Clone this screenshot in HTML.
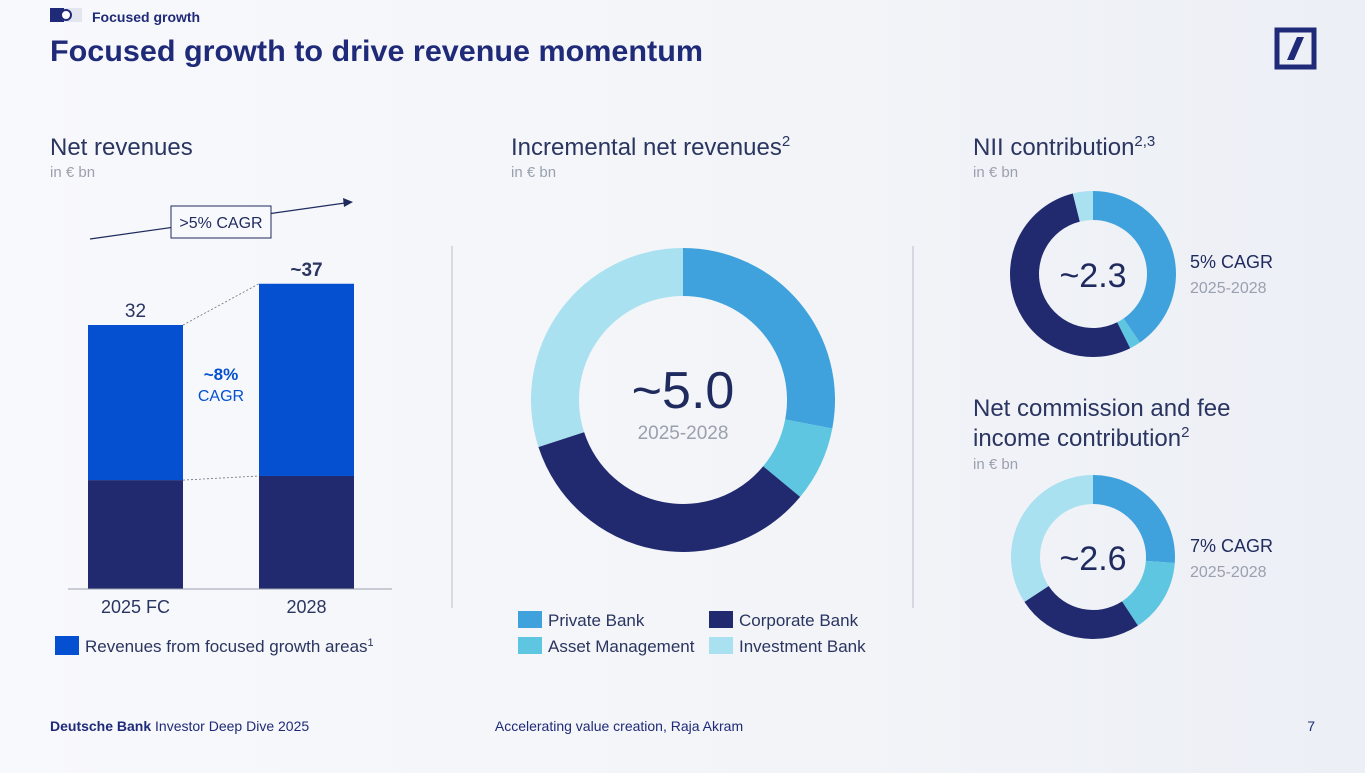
<!DOCTYPE html>
<html><head><meta charset="utf-8"><style>
html,body{margin:0;padding:0}
body{width:1365px;height:768px;overflow:hidden;background:linear-gradient(90deg,#f8f9fc 0%,#f2f4f8 60%,#eceff5 100%);font-family:"Liberation Sans",sans-serif}
svg text{font-family:"Liberation Sans",sans-serif}
</style></head><body>
<svg id="s" width="1365" height="768" xmlns="http://www.w3.org/2000/svg">
<g>
  <rect x="50" y="8" width="32" height="14" fill="#e3e6ef"/>
  <rect x="50" y="8" width="14" height="14" fill="#1f2a78"/>
  <circle cx="66" cy="15" r="5" fill="#fff" stroke="#1f2a78" stroke-width="2"/>
  <text x="92" y="22" font-size="14" font-weight="bold" fill="#1f2a78">Focused growth</text>
  <text x="50" y="61" font-size="30" font-weight="bold" fill="#1f2a78" textLength="653" lengthAdjust="spacingAndGlyphs">Focused growth to drive revenue momentum</text>
  <g>
    <rect x="1277" y="30" width="37" height="37" fill="none" stroke="#1f2a78" stroke-width="5"/>
    <polygon points="1287,60 1294,60 1304,37 1297,37" fill="#1f2a78"/>
  </g>
</g>
<g>
  <text x="50" y="155" font-size="24" fill="#2a3560">Net revenues</text>
  <text x="50" y="177" font-size="15" fill="#9aa0ad">in € bn</text>
  <line x1="90" y1="239" x2="345" y2="203" stroke="#1f2a5e" stroke-width="1.2"/>
  <polygon points="353,202 343,198 344,207" fill="#1f2a5e"/>
  <rect x="171" y="206" width="100" height="32" fill="#f8f9fc" stroke="#1f2a5e" stroke-width="1"/>
  <text x="221" y="228" font-size="16" fill="#1f2a5e" text-anchor="middle">&gt;5% CAGR</text>
  <g id="bars"></g>
  <line x1="68" y1="589" x2="392" y2="589" stroke="#9aa0ad" stroke-width="1"/>
  <text x="221" y="380" font-size="17" font-weight="bold" fill="#0550d1" text-anchor="middle">~8%</text>
  <text x="221" y="401" font-size="16" fill="#0550d1" text-anchor="middle">CAGR</text>
  <rect x="55" y="636" width="24" height="19" fill="#0550d1"/>
  <text x="85" y="652" font-size="17" fill="#2a3560">Revenues from focused growth areas<tspan font-size="11" dy="-6">1</tspan></text>
</g>
<line x1="452" y1="246" x2="452" y2="608" stroke="#b9bdc8" stroke-width="1"/>
<line x1="913" y1="246" x2="913" y2="608" stroke="#b9bdc8" stroke-width="1"/>
<g>
  <text x="511" y="155" font-size="24" fill="#2a3560">Incremental net revenues<tspan font-size="15" dy="-9">2</tspan></text>
  <text x="511" y="177" font-size="15" fill="#9aa0ad">in € bn</text>
  <g id="donutMain"></g>
  <text x="683" y="408" font-size="52" fill="#1f2a5e" text-anchor="middle">~5.0</text>
  <text x="683" y="439" font-size="19" fill="#9aa0ad" text-anchor="middle">2025-2028</text>
  <g>
    <rect x="518" y="611" width="24" height="17" fill="#3fa2dc"/>
    <text x="548" y="626" font-size="17" fill="#2a3560">Private Bank</text>
    <rect x="709" y="611" width="24" height="17" fill="#212a6e"/>
    <text x="739" y="626" font-size="17" fill="#2a3560">Corporate Bank</text>
    <rect x="518" y="637" width="24" height="17" fill="#5ec6e0"/>
    <text x="548" y="652" font-size="17" fill="#2a3560">Asset Management</text>
    <rect x="709" y="637" width="24" height="17" fill="#a9e1f0"/>
    <text x="739" y="652" font-size="17" fill="#2a3560">Investment Bank</text>
  </g>
</g>
<g>
  <text x="973" y="155" font-size="24" fill="#2a3560">NII contribution<tspan font-size="15" dy="-9">2,3</tspan></text>
  <text x="973" y="177" font-size="15" fill="#9aa0ad">in € bn</text>
  <g id="donutNii"></g>
  <text x="1093" y="287" font-size="34" fill="#1f2a5e" text-anchor="middle">~2.3</text>
  <text x="1190" y="268" font-size="18" fill="#1f2a5e">5% CAGR</text>
  <text x="1190" y="293" font-size="16" fill="#9aa0ad">2025-2028</text>
</g>
<g>
  <text x="973" y="416" font-size="24" fill="#2a3560">Net commission and fee</text>
  <text x="973" y="446" font-size="24" fill="#2a3560">income contribution<tspan font-size="15" dy="-9">2</tspan></text>
  <text x="973" y="469" font-size="15" fill="#9aa0ad">in € bn</text>
  <g id="donutFee"></g>
  <text x="1093" y="570" font-size="34" fill="#1f2a5e" text-anchor="middle">~2.6</text>
  <text x="1190" y="552" font-size="18" fill="#1f2a5e">7% CAGR</text>
  <text x="1190" y="577" font-size="16" fill="#9aa0ad">2025-2028</text>
</g>
<g>
  <text x="50" y="731" font-size="14" fill="#1f2a78"><tspan font-weight="bold">Deutsche Bank</tspan> Investor Deep Dive 2025</text>
  <text x="619" y="731" font-size="14" fill="#1f2a78" text-anchor="middle">Accelerating value creation, Raja Akram</text>
  <text x="1315" y="731" font-size="14" fill="#1f2a78" text-anchor="end">7</text>
</g>
</svg>
<script>
const barCategories = ["2025 FC", "2028"];
const coreValues = [13.2, 13.7];
const focusedValues = [18.8, 23.3];
const totalLabels = ["32", "~37"];
const segmentNames = ["Private Bank", "Asset Management", "Corporate Bank", "Investment Bank"];
const incrementalValues = [1.4, 0.4, 1.7, 1.5];
const niiValues = [0.93, 0.05, 1.23, 0.09];
const feeValues = [0.68, 0.38, 0.65, 0.89];

const NS = "http://www.w3.org/2000/svg";
const segColors = ["#3fa2dc", "#5ec6e0", "#212a6e", "#a9e1f0"];
function mk(tag, attrs, parent) {
  const e = document.createElementNS(NS, tag);
  for (const k in attrs) e.setAttribute(k, attrs[k]);
  parent.appendChild(e);
  return e;
}
const baseY = 589, pxPer = 8.25, barW = 95;
const xPos = i => 88 + i * 171;
const yS = v => v * pxPer;
const gb = document.getElementById("bars");
const tops = [];
barCategories.forEach((c, i) => {
  const x = xPos(i);
  const hc = yS(coreValues[i]), hf = yS(focusedValues[i]);
  const r1 = mk("rect", {x: x, y: baseY - hc, width: barW, height: hc, fill: "#212a6e"}, gb);
  
  
  const r2 = mk("rect", {x: x, y: baseY - hc - hf, width: barW, height: hf, fill: "#0550d1"}, gb);
  
  
  tops.push([baseY - hc - hf, baseY - hc]);
  const t = mk("text", {x: x + barW / 2, y: baseY - hc - hf - 8, "font-size": 19, fill: "#2a3560", "text-anchor": "middle", "font-weight": i == 1 ? "bold" : "normal"}, gb);
  t.textContent = totalLabels[i];
  
  
  const xl = mk("text", {x: x + barW / 2, y: 613, "font-size": 18, fill: "#2a3560", "text-anchor": "middle"}, gb);
  xl.textContent = c;
  
  
});
[0, 1].forEach(k => {
  const l = mk("line", {x1: xPos(0) + barW, y1: tops[0][k], x2: xPos(1), y2: tops[1][k], stroke: "#6b7080", "stroke-width": 0.8, "stroke-dasharray": "2,2"}, gb);
  
  
});
function donut(id, vals, cx, cy, ro, ri, name) {
  const g = document.getElementById(id);
  const tot = vals.reduce((a, b) => a + b, 0);
  let a0 = 0;
  vals.forEach((v, i) => {
    const a1 = a0 + v / tot * 2 * Math.PI;
    const p = (a, r) => [cx + r * Math.sin(a), cy - r * Math.cos(a)];
    const [x0, y0] = p(a0, ro), [x1, y1] = p(a1, ro), [x2, y2] = p(a1, ri), [x3, y3] = p(a0, ri);
    const lg = (a1 - a0) > Math.PI ? 1 : 0;
    const path = mk("path", {d: `M${x0},${y0} A${ro},${ro} 0 ${lg} 1 ${x1},${y1} L${x2},${y2} A${ri},${ri} 0 ${lg} 0 ${x3},${y3} Z`, fill: segColors[i]}, g);
    
    
    a0 = a1;
  });
}
donut("donutMain", incrementalValues, 683, 400, 152, 104, "incremental");
donut("donutNii", niiValues, 1093, 274, 83, 54, "nii");
donut("donutFee", feeValues, 1093, 557, 82, 53, "fee");
</script>
</body></html>
